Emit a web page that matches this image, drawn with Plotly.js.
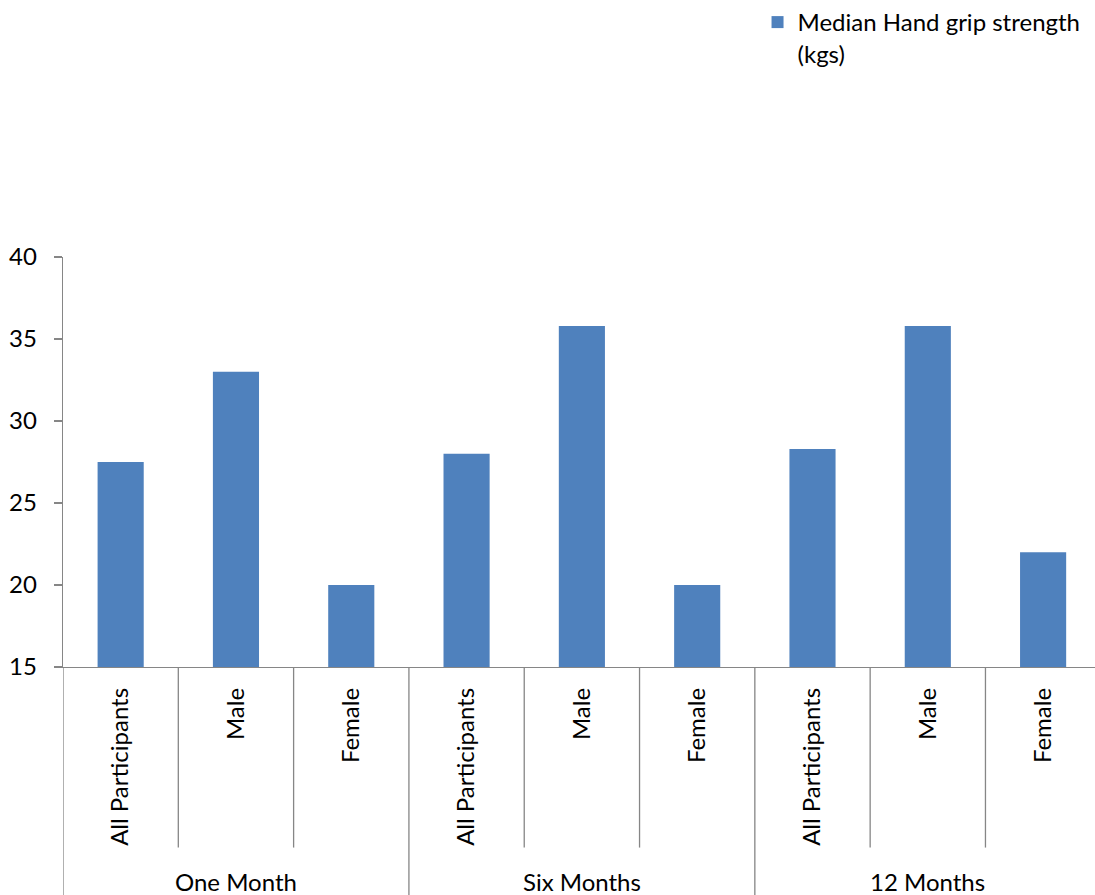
<!DOCTYPE html>
<html>
<head>
<meta charset="utf-8">
<script src="https://cdn.plot.ly/plotly-3.0.1.min.js"></script>
<style>
  html, body { margin: 0; padding: 0; background: #ffffff; overflow: hidden; }
  #chart { width: 1095px; height: 895px; }
</style>
</head>
<body>
<div id="chart"></div>
<script>
// Median hand grip strength by follow-up period and participant group
const periods = ["One Month", "Six Months", "12 Months"];
const groups = ["All Participants", "Male", "Female"];
const oneMonth = [27.5, 33, 20];
const sixMonths = [28, 35.8, 20];
const twelveMonths = [28.3, 35.8, 22];
const seriesName = "Median Hand grip strength<br>(kgs)";

const values = [].concat(oneMonth, sixMonths, twelveMonths);
const positions = values.map((_, i) => i);
const tickText = [].concat(groups, groups, groups);

const fontFamily = "Lato, 'Open Sans', sans-serif";
const fontSize = 24;
const axisGrey = "#868686";

// Divider lines beneath the category axis
const shapes = [];
const innerBottom = -0.4404;   // short dividers between groups within a period
const outerBottom = -0.56;     // long dividers between periods
for (let k = 0; k < positions.length; k++) {
  const x = k - 0.5;
  const isPeriodEdge = (k % groups.length === 0);
  shapes.push({
    type: "line", xref: "x", yref: "paper",
    x0: x, x1: x, y0: 0, y1: isPeriodEdge ? outerBottom : innerBottom,
    line: { color: axisGrey, width: 1.3 }
  });
}

// Period labels centred under each block of three bars
const annotations = periods.map((p, j) => ({
  text: p, xref: "x", yref: "paper",
  x: j * groups.length + (groups.length - 1) / 2, y: -0.523,
  xanchor: "center", yanchor: "middle", showarrow: false,
  font: { family: fontFamily, size: fontSize, color: "#000000" }
}));

const trace = {
  type: "bar",
  x: positions,
  y: values,
  name: seriesName,
  marker: { color: "#4F81BD" },
  showlegend: true
};

const layout = {
  width: 1095,
  height: 895,
  margin: { l: 63, r: 0, t: 256, b: 228, pad: 0 },
  paper_bgcolor: "#ffffff",
  plot_bgcolor: "#ffffff",
  bargap: 0.6,
  font: { family: fontFamily, size: fontSize, color: "#000000" },
  showlegend: true,
  legend: {
    x: 0.673, y: 1.625, xanchor: "left", yanchor: "top",
    valign: "top",
    font: { family: fontFamily, size: fontSize, color: "#000000" },
    bgcolor: "rgba(0,0,0,0)"
  },
  xaxis: {
    range: [-0.5, 8.45],
    tickmode: "array",
    tickvals: positions,
    ticktext: tickText,
    tickangle: -90,
    ticks: "",
    ticklabelstandoff: 10,
    showgrid: false,
    zeroline: false,
    showline: true,
    linecolor: axisGrey,
    linewidth: 1.3,
    fixedrange: true
  },
  yaxis: {
    range: [15, 40],
    tick0: 15,
    dtick: 5,
    ticks: "outside",
    ticklen: 8,
    tickcolor: axisGrey,
    tickwidth: 1.3,
    ticklabelstandoff: 12,
    showgrid: false,
    zeroline: false,
    showline: true,
    linecolor: axisGrey,
    linewidth: 1.3,
    fixedrange: true
  },
  shapes: shapes,
  annotations: annotations
};

Plotly.newPlot("chart", [trace], layout, { displayModeBar: false, staticPlot: true });
</script>
</body>
</html>
